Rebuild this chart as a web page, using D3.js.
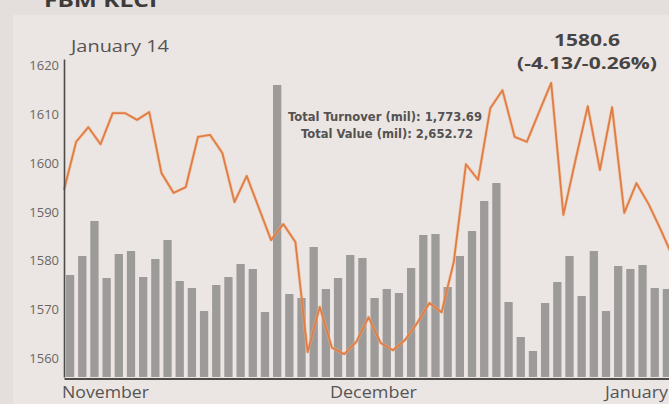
<!DOCTYPE html>
<html><head><meta charset="utf-8">
<script src="https://cdn.jsdelivr.net/npm/d3@7"></script>
<style>
html,body{margin:0;padding:0;background:#e4dfdc;overflow:hidden}
svg{display:block}
</style></head><body>
<svg id="chart" width="669" height="404"></svg>
<script>
// ---- data ----
const indexValues = [
  1594.5, 1604.4, 1607.4, 1603.9, 1610.3, 1610.3, 1608.9, 1610.5, 1598.0, 1593.9,
  1595.1, 1605.4, 1605.8, 1602.1, 1592.0, 1597.4, 1590.8, 1584.2, 1587.5, 1583.8,
  1561.2, 1570.5, 1562.1, 1560.8, 1563.3, 1568.4, 1563.1, 1561.6, 1563.7, 1567.2,
  1571.3, 1569.4, 1579.7, 1599.8, 1596.6, 1611.3, 1615.0, 1605.4, 1604.4, 1610.5,
  1616.5, 1589.4, 1600.7, 1611.7, 1598.6, 1611.5, 1589.8, 1595.9, 1591.6, 1586.3,
  1580.6
];
const volumes = [
  1020, 1210, 1560, 990, 1230, 1260, 1000, 1180, 1370, 960,
  890, 660, 920, 1000, 1130, 1080, 650, 2920, 830, 790,
  1300, 880, 990, 1220, 1190, 790, 880, 840, 1090, 1420,
  1430, 900, 1210, 1460, 1760, 1940, 750, 400, 260, 740,
  950, 1210, 810, 1260, 660, 1110, 1080, 1120, 890, 880,
  1773.69
];
const yTicks = [1560, 1570, 1580, 1590, 1600, 1610, 1620];
const months = ["November", "December", "January"];
const monthStartIdx = [0, 22, 50];
const headerLabel = "FBM KLCI";
const dateLabel = "January 14";
const closeLabel = "1580.6";
const changeLabel = "(-4.13/-0.26%)";
const turnoverLabel = "Total Turnover (mil): 1,773.69";
const valueLabel = "Total Value (mil): 2,652.72";

// ---- drawing ----
const W = 669, H = 404;
const svg = d3.select("#chart");
const days = d3.range(indexValues.length);
const step = 12.18, x0 = 64;

const xBand = d3.scaleBand().domain(days)
  .range([x0, x0 + days.length * step]).paddingInner(0.32).paddingOuter(0.16);
const xLine = d3.scalePoint().domain(days)
  .range([x0, x0 + (days.length - 1) * step]);
const y = d3.scaleLinear().domain([1556.1, 1621.4]).range([377, 59]);
const yVol = d3.scaleLinear().domain([0, 3180]).range([377, 59]);

svg.append("rect").attr("x", 0).attr("y", 0).attr("width", W).attr("height", H).attr("fill", "#e4dfdc");
svg.append("rect").attr("x", 13).attr("y", 15).attr("width", W - 13).attr("height", H - 15).attr("fill", "#ebe6e3");

const font = "'Open Sans', 'Noto Sans', sans-serif";
const condensed = "'Liberation Sans Narrow', 'DejaVu Sans Condensed', sans-serif";

svg.append("text").attr("x", 44).attr("y", 7).text(headerLabel)
  .attr("font-family", font).attr("font-weight", 700).attr("font-size", 20)
  .attr("fill", "#3d3a3a").attr("textLength", 113).attr("lengthAdjust", "spacingAndGlyphs");

// bars
svg.append("g").selectAll("rect").data(days).join("rect")
  .attr("x", i => xBand(i))
  .attr("width", xBand.bandwidth())
  .attr("y", i => yVol(volumes[i]))
  .attr("height", i => yVol(0) - yVol(volumes[i]))
  .attr("fill", "#9d9a9a");

// line
const line = d3.line().x((d, i) => xLine(i)).y(d => y(d));
svg.append("path").datum(indexValues)
  .attr("d", line).attr("fill", "none")
  .attr("stroke", "#f2b27a").attr("stroke-width", 3.2).attr("stroke-linejoin", "round").attr("opacity", 0.55);
svg.append("path").datum(indexValues)
  .attr("d", line).attr("fill", "none")
  .attr("stroke", "#df7c48").attr("stroke-width", 1.8).attr("stroke-linejoin", "round");

// y axis
const gy = svg.append("g").attr("transform", `translate(${x0},0)`)
  .call(d3.axisLeft(y).tickValues(yTicks).tickSize(0).tickSizeOuter(0).tickPadding(5).tickFormat(d3.format("d")));
gy.select(".domain").attr("stroke", "#4e4b4b").attr("stroke-width", 1.6);
gy.selectAll("text").attr("font-family", font).attr("font-size", 13).attr("fill", "#6a6666");

// x axis
const gx = svg.append("g").attr("transform", "translate(0,378.5)")
  .call(d3.axisBottom(xLine).tickValues([]).tickSize(0).tickSizeOuter(0));
gx.select(".domain").attr("stroke", "#4e4b4b").attr("stroke-width", 2);

// month labels
const monthWidths = [87, 87, 63];
months.forEach((m, k) => {
  const last = k === months.length - 1;
  svg.append("text")
    .attr("x", last ? W - 1 : xLine(monthStartIdx[k]) - 2)
    .attr("y", 398)
    .attr("text-anchor", last ? "end" : "start")
    .attr("font-family", font).attr("font-size", 16).attr("fill", "#575454")
    .attr("textLength", monthWidths[k]).attr("lengthAdjust", "spacingAndGlyphs")
    .text(m);
});

// annotations
svg.append("text").attr("x", 71).attr("y", 51.5).text(dateLabel)
  .attr("font-family", font).attr("font-size", 17).attr("fill", "#575454")
  .attr("textLength", 98).attr("lengthAdjust", "spacingAndGlyphs");
svg.append("text").attr("x", 587).attr("y", 45.5).attr("text-anchor", "middle").text(closeLabel)
  .attr("font-family", font).attr("font-weight", 700).attr("font-size", 16).attr("fill", "#474444")
  .attr("textLength", 66).attr("lengthAdjust", "spacingAndGlyphs");
svg.append("text").attr("x", 587).attr("y", 68.5).attr("text-anchor", "middle").text(changeLabel)
  .attr("font-family", font).attr("font-weight", 700).attr("font-size", 16.5).attr("fill", "#474444")
  .attr("textLength", 140).attr("lengthAdjust", "spacingAndGlyphs");
svg.append("text").attr("x", 385).attr("y", 120.7).attr("text-anchor", "middle").text(turnoverLabel)
  .attr("font-family", condensed).attr("font-weight", 700).attr("font-size", 12.5).attr("fill", "#555252")
  .attr("textLength", 194).attr("lengthAdjust", "spacingAndGlyphs");
svg.append("text").attr("x", 387).attr("y", 138.3).attr("text-anchor", "middle").text(valueLabel)
  .attr("font-family", condensed).attr("font-weight", 700).attr("font-size", 12.5).attr("fill", "#555252")
  .attr("textLength", 172).attr("lengthAdjust", "spacingAndGlyphs");
</script>
</body></html>
